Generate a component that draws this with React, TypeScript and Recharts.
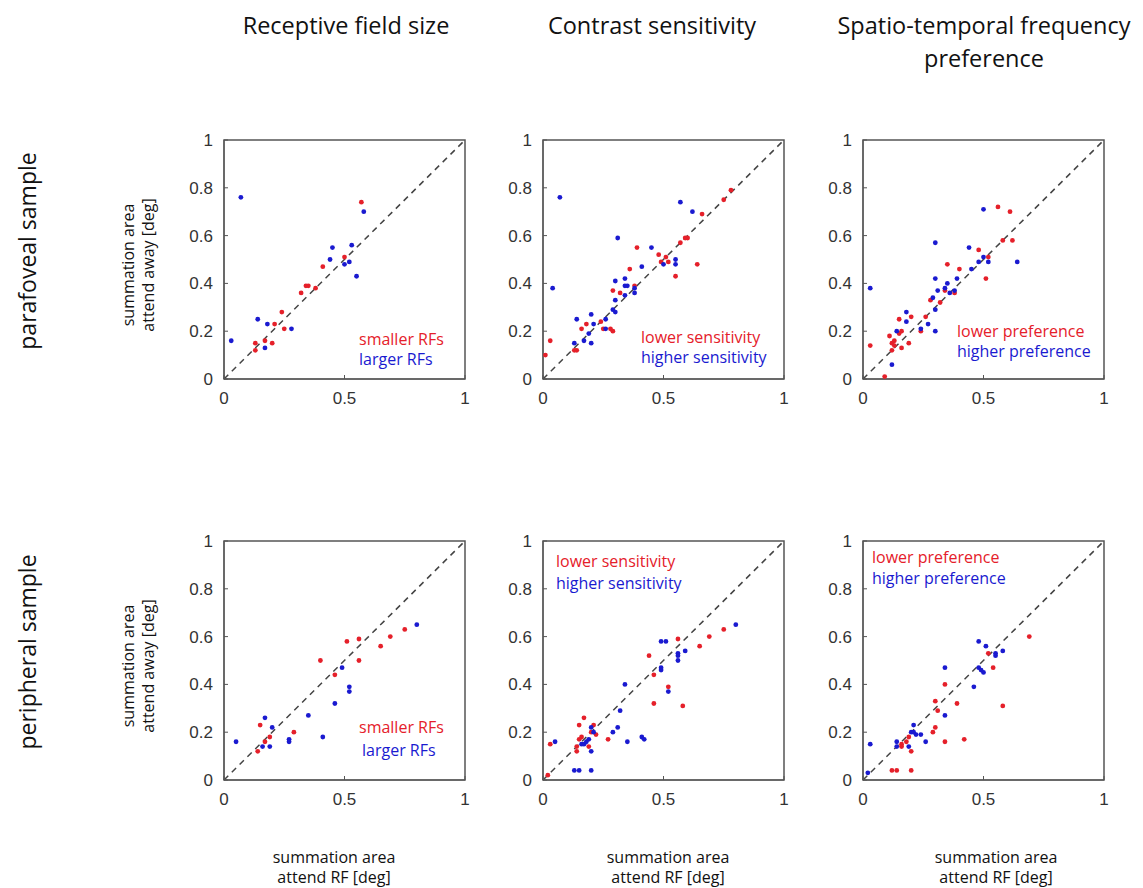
import React from "react";
import { ScatterChart, Scatter, XAxis, YAxis, ReferenceLine, ReferenceArea } from "recharts";

type Pt = [number, number];

const colTitles = ["Receptive field size", "Contrast sensitivity", "Spatio-temporal frequency"];
const colSubTitle = "preference";
const rowTitles = ["parafoveal sample", "peripheral sample"];
const xTicks = [0, 0.5, 1];
const yTicks = [0, 0.2, 0.4, 0.6, 0.8, 1];
const redLabels = ["smaller RFs", "lower sensitivity", "lower preference"];
const blueLabels = ["larger RFs", "higher sensitivity", "higher preference"];

// parafoveal sample
const paraRfRed: Pt[] = [
  [0.13, 0.15], [0.13, 0.12], [0.17, 0.16], [0.2, 0.15], [0.21, 0.23], [0.24, 0.28], [0.25, 0.21],
  [0.32, 0.36], [0.34, 0.39], [0.35, 0.39], [0.38, 0.38], [0.41, 0.47], [0.5, 0.51], [0.57, 0.74],
];
const paraRfBlue: Pt[] = [
  [0.03, 0.16], [0.07, 0.76], [0.14, 0.25], [0.18, 0.23], [0.17, 0.13], [0.28, 0.21], [0.44, 0.5],
  [0.45, 0.55], [0.5, 0.48], [0.52, 0.49], [0.53, 0.56], [0.55, 0.43], [0.58, 0.7],
];
const paraCsRed: Pt[] = [
  [0.01, 0.1], [0.03, 0.16], [0.13, 0.12], [0.14, 0.12], [0.16, 0.21], [0.18, 0.23], [0.24, 0.24],
  [0.25, 0.21], [0.28, 0.21], [0.29, 0.2], [0.29, 0.37], [0.32, 0.36], [0.36, 0.46], [0.39, 0.55],
  [0.38, 0.39], [0.48, 0.52], [0.49, 0.49], [0.51, 0.51], [0.52, 0.49], [0.55, 0.43], [0.57, 0.57],
  [0.59, 0.59], [0.6, 0.59], [0.64, 0.48], [0.66, 0.69], [0.75, 0.75], [0.78, 0.79],
];
const paraCsBlue: Pt[] = [
  [0.04, 0.38], [0.07, 0.76], [0.13, 0.15], [0.14, 0.25], [0.17, 0.16], [0.19, 0.19], [0.2, 0.27],
  [0.2, 0.15], [0.21, 0.23], [0.26, 0.25], [0.26, 0.21], [0.29, 0.29], [0.3, 0.28], [0.3, 0.33],
  [0.3, 0.41], [0.31, 0.59], [0.34, 0.42], [0.34, 0.35], [0.34, 0.39], [0.35, 0.39], [0.38, 0.36],
  [0.38, 0.38], [0.41, 0.47], [0.45, 0.55], [0.5, 0.48], [0.55, 0.5], [0.55, 0.48], [0.57, 0.74],
  [0.62, 0.7],
];
const paraStRed: Pt[] = [
  [0.03, 0.14], [0.09, 0.01], [0.11, 0.18], [0.12, 0.12], [0.12, 0.15], [0.13, 0.16], [0.13, 0.14],
  [0.15, 0.25], [0.15, 0.19], [0.16, 0.2], [0.16, 0.13], [0.19, 0.15], [0.2, 0.26], [0.24, 0.2],
  [0.26, 0.26], [0.28, 0.33], [0.32, 0.32], [0.35, 0.48], [0.34, 0.37], [0.38, 0.36], [0.4, 0.46],
  [0.48, 0.54], [0.52, 0.51], [0.51, 0.42], [0.56, 0.72], [0.58, 0.58], [0.61, 0.7], [0.62, 0.58],
];
const paraStBlue: Pt[] = [
  [0.03, 0.38], [0.12, 0.06], [0.14, 0.2], [0.18, 0.28], [0.18, 0.24], [0.24, 0.21], [0.27, 0.23],
  [0.29, 0.34], [0.3, 0.2], [0.3, 0.29], [0.3, 0.42], [0.3, 0.57], [0.31, 0.37], [0.34, 0.38],
  [0.35, 0.4], [0.36, 0.36], [0.38, 0.37], [0.39, 0.42], [0.44, 0.55], [0.45, 0.46], [0.48, 0.49],
  [0.5, 0.51], [0.5, 0.71], [0.52, 0.49], [0.64, 0.49],
];

// peripheral sample
const periRfRed: Pt[] = [
  [0.14, 0.12], [0.15, 0.23], [0.17, 0.16], [0.19, 0.18], [0.29, 0.2], [0.4, 0.5], [0.46, 0.44],
  [0.51, 0.58], [0.56, 0.59], [0.56, 0.5], [0.65, 0.56], [0.69, 0.6], [0.75, 0.63],
];
const periRfBlue: Pt[] = [
  [0.05, 0.16], [0.16, 0.14], [0.17, 0.26], [0.19, 0.14], [0.2, 0.22], [0.27, 0.17], [0.27, 0.16],
  [0.35, 0.27], [0.41, 0.18], [0.46, 0.32], [0.49, 0.47], [0.52, 0.39], [0.52, 0.37], [0.8, 0.65],
];
const periCsRed: Pt[] = [
  [0.02, 0.02], [0.03, 0.15], [0.14, 0.14], [0.14, 0.12], [0.15, 0.23], [0.15, 0.17], [0.16, 0.18],
  [0.17, 0.26], [0.19, 0.14], [0.2, 0.2], [0.21, 0.23], [0.22, 0.19], [0.27, 0.17], [0.44, 0.52],
  [0.46, 0.32], [0.46, 0.44], [0.52, 0.39], [0.56, 0.59], [0.58, 0.31], [0.65, 0.56], [0.69, 0.6],
  [0.75, 0.63],
];
const periCsBlue: Pt[] = [
  [0.05, 0.16], [0.13, 0.04], [0.15, 0.04], [0.2, 0.04], [0.16, 0.15], [0.17, 0.15], [0.18, 0.16],
  [0.19, 0.17], [0.2, 0.12], [0.2, 0.22], [0.21, 0.2], [0.29, 0.2], [0.31, 0.22], [0.32, 0.29],
  [0.34, 0.4], [0.35, 0.16], [0.41, 0.18], [0.42, 0.17], [0.49, 0.58], [0.51, 0.58], [0.49, 0.47],
  [0.49, 0.46], [0.52, 0.37], [0.56, 0.53], [0.56, 0.52], [0.56, 0.5], [0.59, 0.54], [0.8, 0.65],
];
const periStRed: Pt[] = [
  [0.12, 0.04], [0.14, 0.04], [0.2, 0.04], [0.16, 0.14], [0.16, 0.15], [0.18, 0.16], [0.19, 0.18],
  [0.2, 0.12], [0.29, 0.2], [0.3, 0.22], [0.3, 0.33], [0.31, 0.29], [0.34, 0.4], [0.34, 0.16],
  [0.39, 0.32], [0.42, 0.17], [0.52, 0.53], [0.54, 0.47], [0.58, 0.31], [0.69, 0.6],
];
const periStBlue: Pt[] = [
  [0.02, 0.03], [0.03, 0.15], [0.14, 0.14], [0.14, 0.16], [0.19, 0.14], [0.2, 0.2], [0.21, 0.23],
  [0.22, 0.19], [0.21, 0.2], [0.24, 0.19], [0.26, 0.16], [0.34, 0.27], [0.34, 0.47], [0.46, 0.39],
  [0.48, 0.58], [0.48, 0.47], [0.5, 0.45], [0.49, 0.46], [0.51, 0.56], [0.55, 0.53], [0.55, 0.52],
  [0.58, 0.54],
];

const panels = [
  { row: 0, col: 0, red: paraRfRed, blue: paraRfBlue },
  { row: 0, col: 1, red: paraCsRed, blue: paraCsBlue },
  { row: 0, col: 2, red: paraStRed, blue: paraStBlue },
  { row: 1, col: 0, red: periRfRed, blue: periRfBlue },
  { row: 1, col: 1, red: periCsRed, blue: periCsBlue },
  { row: 1, col: 2, red: periStRed, blue: periStBlue },
];

// layout
const plotLeft = [224, 543, 863];
const plotTop = [140, 541];
const plotW = 241;
const plotH = 239;
const padL = 60;
const padT = 10;
const padR = 10;
const padB = 40;

const RED = "#e5202a";
const BLUE = "#1a1ad0";
const BOX = "#555555";
const FONT = "'Open Sans', Lato, sans-serif";
const TICK_FONT = "'Liberation Sans', Arial, sans-serif";

const toPoints = (pts: Pt[]) => pts.map(([x, y]) => ({ x, y }));

const dot = (color: string) => (props: any) => (
  <circle cx={props.cx} cy={props.cy} r={2.4} fill={color} />
);

const tickStyle = { fontSize: 17, fill: "#333", fontFamily: TICK_FONT };

const Panel = ({ row, col, red, blue }: { row: number; col: number; red: Pt[]; blue: Pt[] }) => (
  <div style={{ position: "absolute", left: plotLeft[col] - padL, top: plotTop[row] - padT }}>
    <ScatterChart
      width={padL + plotW + padR}
      height={padT + plotH + padB}
      margin={{ top: padT, right: padR, bottom: 0, left: 0 }}
    >
      <XAxis
        type="number"
        dataKey="x"
        domain={[0, 1]}
        ticks={xTicks}
        height={padB}
        stroke={BOX}
        tickSize={-4}
        tickMargin={17}
        tick={tickStyle}
      />
      <YAxis
        type="number"
        dataKey="y"
        domain={[0, 1]}
        ticks={yTicks}
        width={padL}
        stroke={BOX}
        tickSize={-4}
        tickMargin={15}
        tick={tickStyle}
      />
      {/* box round the plot area */}
      <ReferenceArea x1={0} x2={1} y1={0} y2={1} fill="none" stroke={BOX} strokeWidth={1.5} />
      <ReferenceLine
        segment={[{ x: 0, y: 0 }, { x: 1, y: 1 }]}
        stroke="#444"
        strokeWidth={1.5}
        strokeDasharray="6 5"
      />
      <Scatter data={toPoints(red)} shape={dot(RED)} isAnimationActive={false} />
      <Scatter data={toPoints(blue)} shape={dot(BLUE)} isAnimationActive={false} />
    </ScatterChart>
  </div>
);

// text placed over the panels
const titleX = [346, 652, 984];
const xLabelX = [334, 668, 996];
const rowLabelY = [251, 652];
const yLabelY = [265, 666];
const legendPos = [
  [[359, 339], [359, 359]],
  [[641, 337], [641, 357]],
  [[957, 331], [957, 351]],
  [[359, 727], [362, 750]],
  [[556, 561], [556, 583]],
  [[872, 557], [872, 578]],
];

export default function App() {
  return (
    <div
      style={{
        position: "absolute",
        left: 0,
        top: 0,
        width: 1143,
        height: 888,
        background: "#fff",
        overflow: "hidden",
      }}
    >
      {panels.map((p) => (
        <Panel key={`${p.row}-${p.col}`} {...p} />
      ))}
      <svg
        width={1143}
        height={888}
        style={{ position: "absolute", left: 0, top: 0, pointerEvents: "none" }}
        fontFamily={FONT}
      >
        {colTitles.map((t, i) => (
          <text key={t} x={titleX[i]} y={25} fontSize={23.5} textAnchor="middle" dominantBaseline="central" fill="#111">
            {t}
          </text>
        ))}
        <text x={titleX[2]} y={58} fontSize={23.5} textAnchor="middle" dominantBaseline="central" fill="#111">
          {colSubTitle}
        </text>
        {rowTitles.map((t, i) => (
          <text
            key={t}
            x={27}
            y={rowLabelY[i]}
            fontSize={23}
            textAnchor="middle"
            dominantBaseline="central"
            fill="#111"
            transform={`rotate(-90, 27, ${rowLabelY[i]})`}
          >
            {t}
          </text>
        ))}
        {yLabelY.map((y, i) => (
          <g key={i} transform={`rotate(-90, 138, ${y})`}>
            <text x={138} y={y - 10} fontSize={16} textAnchor="middle" dominantBaseline="central" fill="#111">
              summation area
            </text>
            <text x={138} y={y + 10} fontSize={16} textAnchor="middle" dominantBaseline="central" fill="#111">
              attend away [deg]
            </text>
          </g>
        ))}
        {xLabelX.map((x, i) => (
          <g key={i}>
            <text x={x} y={857} fontSize={16} textAnchor="middle" dominantBaseline="central" fill="#111">
              summation area
            </text>
            <text x={x} y={877} fontSize={16} textAnchor="middle" dominantBaseline="central" fill="#111">
              attend RF [deg]
            </text>
          </g>
        ))}
        {legendPos.map((pos, i) => (
          <g key={i}>
            <text x={pos[0][0]} y={pos[0][1]} fontSize={16} dominantBaseline="central" fill={RED}>
              {redLabels[i % 3]}
            </text>
            <text x={pos[1][0]} y={pos[1][1]} fontSize={16} dominantBaseline="central" fill={BLUE}>
              {blueLabels[i % 3]}
            </text>
          </g>
        ))}
      </svg>
    </div>
  );
}
